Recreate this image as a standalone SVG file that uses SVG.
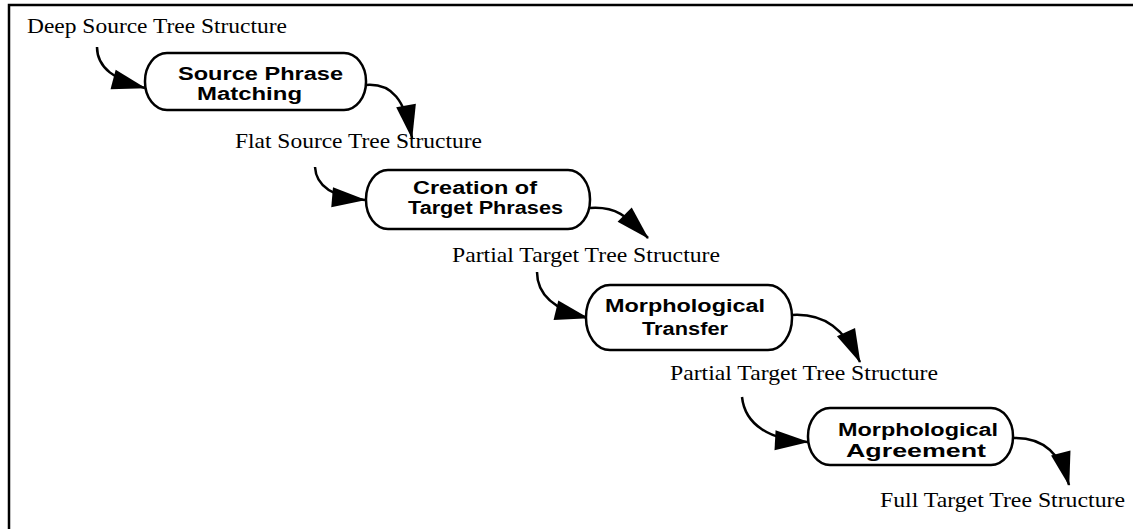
<svg xmlns="http://www.w3.org/2000/svg" width="1133" height="529" viewBox="0 0 1133 529">
<style>
.frame{fill:none;stroke:#000;stroke-width:2.5}
.box{fill:#fff;stroke:#000;stroke-width:2.5}
.lbl{font-family:"Liberation Serif","Times New Roman",serif;font-size:22px;fill:#000}
.nt{font-family:"Liberation Sans",Arial,sans-serif;font-size:18px;font-weight:bold;fill:#000}
.arr{fill:none;stroke:#000;stroke-width:2.5;marker-end:url(#ah)}
</style>
<defs>
<marker id="ah" markerUnits="userSpaceOnUse" viewBox="-34 -11 36 22" refX="0" refY="0" markerWidth="36" markerHeight="22" orient="auto">
<path d="M1,0 L-33,-10 L-33,10 Z" fill="#000"/>
</marker>
</defs>
<path class="frame" d="M9,529 L9,5 L1133,5"/>
<g id="labels">
<text class="lbl" x="27" y="33" textLength="260" lengthAdjust="spacingAndGlyphs">Deep Source Tree Structure</text>
<text class="lbl" x="235" y="148" textLength="247" lengthAdjust="spacingAndGlyphs">Flat Source Tree Structure</text>
<text class="lbl" x="452" y="262" textLength="268" lengthAdjust="spacingAndGlyphs">Partial Target Tree Structure</text>
<text class="lbl" x="670" y="380" textLength="268" lengthAdjust="spacingAndGlyphs">Partial Target Tree Structure</text>
<text class="lbl" x="880" y="507" textLength="245" lengthAdjust="spacingAndGlyphs">Full Target Tree Structure</text>
</g>
<g id="connectors">
<path class="arr" d="M97,47 C97,68 115,80 145,88"/>
<path class="arr" d="M366,85 C392,83 405,100 412,138"/>
<path class="arr" d="M315,167 C316,185 330,197 365,200"/>
<path class="arr" d="M590,208 C618,206 628,218 648,238"/>
<path class="arr" d="M537,272 C537,295 555,310 588,318"/>
<path class="arr" d="M792,315 C825,313 845,330 860,362"/>
<path class="arr" d="M742,397 C745,425 770,440 808,442"/>
<path class="arr" d="M1013,438 C1040,437 1060,450 1069,485"/>
</g>
<g id="node1">
<rect class="box" x="145" y="53" width="221" height="57" rx="22" ry="28"/>
<text class="nt" x="178" y="80" textLength="165" lengthAdjust="spacingAndGlyphs">Source Phrase</text>
<text class="nt" x="197" y="100" textLength="105" lengthAdjust="spacingAndGlyphs">Matching</text>
</g>
<g id="node2">
<rect class="box" x="366" y="170" width="224" height="59" rx="22" ry="29"/>
<text class="nt" x="413" y="194" textLength="124" lengthAdjust="spacingAndGlyphs">Creation of</text>
<text class="nt" x="408" y="214" textLength="155" lengthAdjust="spacingAndGlyphs">Target Phrases</text>
</g>
<g id="node3">
<rect class="box" x="586" y="285" width="206" height="65" rx="24" ry="32"/>
<text class="nt" x="605" y="312" textLength="160" lengthAdjust="spacingAndGlyphs">Morphological</text>
<text class="nt" x="642" y="335" textLength="86" lengthAdjust="spacingAndGlyphs">Transfer</text>
</g>
<g id="node4">
<rect class="box" x="808" y="408" width="205" height="57" rx="22" ry="28"/>
<text class="nt" x="838" y="436" textLength="160" lengthAdjust="spacingAndGlyphs">Morphological</text>
<text class="nt" x="846" y="457" textLength="140" lengthAdjust="spacingAndGlyphs">Agreement</text>
</g>
</svg>
